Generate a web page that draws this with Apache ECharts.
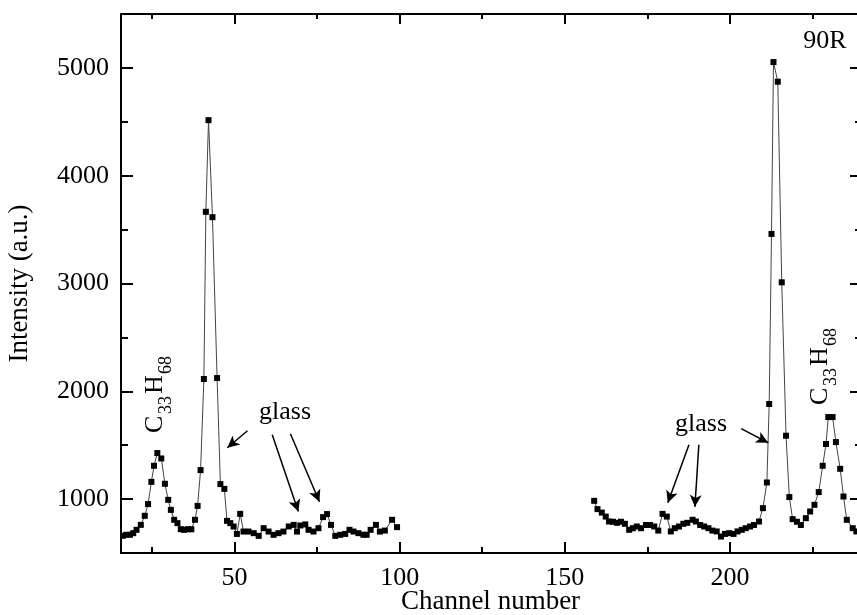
<!DOCTYPE html>
<html>
<head>
<meta charset="utf-8">
<script src="https://cdn.jsdelivr.net/npm/echarts@6/dist/echarts.min.js"></script>
<style>
  html, body { margin: 0; padding: 0; background: #fff; }
  #chart { width: 857px; height: 615px; }
</style>
</head>
<body>
<div id="chart"></div>
<script>
// left block of channels (before the gap)
const channelsA = [16.2, 17.2, 18.3, 19.3, 20.3, 21.6, 22.8, 23.8, 24.8, 25.6, 26.6, 27.8, 28.9, 29.9, 30.7,
  31.7, 32.7, 33.7, 34.7, 35.9, 36.9, 38.0, 38.8, 39.7, 40.7, 41.3, 42.1, 43.3, 44.7, 45.7, 46.9, 47.7,
  48.7, 49.7, 50.7, 51.7, 52.7, 54.2, 55.8, 57.3, 58.8, 60.3, 61.8, 63.3, 64.8, 66.4, 67.9, 68.9, 69.9,
  71.4, 72.4, 73.9, 75.4, 76.8, 78.0, 79.2, 80.5, 82.0, 83.5, 84.8, 86.0, 87.5, 89.0, 90.0, 91.2, 92.8,
  94.0, 95.5, 97.7, 99.2];
const intensityA = [660, 669, 669, 684, 715, 761, 845, 954, 1160, 1309, 1427, 1377, 1142, 993, 900,
  808, 777, 721, 715, 721, 720, 808, 937, 1269, 2114, 3665, 4515, 3615, 2123, 1139, 1095, 798,
  777, 746, 677, 863, 699, 699, 684, 659, 730, 699, 669, 684, 699, 746, 761, 699, 755,
  765, 715, 699, 730, 833, 861, 761, 659, 669, 677, 715, 699, 684, 669, 669, 715, 761,
  699, 708, 808, 740];

// right block of channels (after the gap)
const channelsB = [158.9, 159.9, 161.2, 162.4, 163.4, 164.6, 165.8, 167.0, 168.2, 169.5, 170.6, 171.8,
  173.1, 174.6, 175.8, 177.1, 178.3, 179.6, 180.9, 182.1, 183.3, 184.6, 185.9, 187.1, 188.7, 189.7,
  191.0, 192.2, 193.5, 194.7, 196.0, 197.3, 198.5, 199.8, 201.1, 202.3, 203.6, 204.8, 206.1, 207.3,
  208.8, 210.0, 211.2, 211.9, 212.6, 213.2, 214.5, 215.7, 217.0, 218.0, 219.0, 220.3, 221.5, 223.0,
  224.3, 225.6, 226.9, 228.1, 229.1, 229.8, 231.1, 232.1, 233.4, 234.4, 235.4, 237.2, 238.3];
const intensityB = [984, 907, 875, 838, 792, 790, 780, 790, 771, 715, 730, 746,
  730, 760, 760, 746, 708, 863, 838, 700, 730, 746, 771, 780, 808, 792,
  760, 746, 730, 708, 700, 653, 677, 684, 677, 700, 715, 730, 746, 760,
  792, 916, 1154, 1882, 3460, 5054, 4872, 3011, 1588, 1019, 814, 790, 760, 823,
  885, 947, 1065, 1309, 1511, 1761, 1761, 1529, 1281, 1024, 808, 730, 700];

const xMajor = [50, 100, 150, 200];
const xMinor = [25, 75, 125, 175, 225];
const yMajor = [1000, 2000, 3000, 4000, 5000];
const yMinor = [1500, 2500, 3500, 4500];

// annotation arrows, [from, to] in data coordinates
const arrows = [
  [[53.9, 1634], [47.8, 1476]],
  [[61.4, 1597], [69.3, 884]],
  [[66.9, 1606], [75.7, 975]],
  [[203.4, 1653], [211.6, 1523]],
  [[187.6, 1504], [181.2, 966]],
  [[190.6, 1504], [189.4, 928]]
];

const FONT = '"Liberation Serif", "Times New Roman", serif';
const X_MIN = 15.6, X_MAX = 239.4, Y_MIN = 500, Y_MAX = 5500;

function zip(xs, ys) {
  return xs.map((x, i) => [x, ys[i]]);
}

function xAx(position, ticks, len, labels, name) {
  return {
    type: 'value', position: position, min: X_MIN, max: X_MAX,
    splitLine: { show: false },
    axisLine: { show: len > 7, onZero: false, lineStyle: { color: '#000', width: 2 } },
    axisTick: { show: true, inside: true, length: len, customValues: ticks, lineStyle: { color: '#000', width: 2 } },
    axisLabel: labels ? {
      show: true, customValues: ticks, color: '#000', fontFamily: FONT, fontSize: 26, margin: 12,
      formatter: v => String(v)
    } : { show: false },
    name: name || '', nameLocation: 'middle', nameGap: 35, nameMoveOverlap: false,
    nameTextStyle: { color: '#000', fontFamily: FONT, fontSize: 27 }
  };
}

function yAx(position, ticks, len, labels, name) {
  return {
    type: 'value', position: position, min: Y_MIN, max: Y_MAX,
    splitLine: { show: false },
    axisLine: { show: len > 7, onZero: false, lineStyle: { color: '#000', width: 2 } },
    axisTick: { show: true, inside: true, length: len, customValues: ticks, lineStyle: { color: '#000', width: 2 } },
    axisLabel: labels ? {
      show: true, customValues: ticks, color: '#000', fontFamily: FONT, fontSize: 26, margin: 12,
      formatter: v => String(v)
    } : { show: false },
    name: name || '', nameLocation: 'middle', nameGap: 88, nameMoveOverlap: false,
    nameTextStyle: { color: '#000', fontFamily: FONT, fontSize: 27 }
  };
}

function formula(x, y) {
  const big = '26px ' + FONT, small = '18px ' + FONT;
  return {
    type: 'group', x: x, y: y, rotation: Math.PI / 2,
    children: [
      { type: 'text', x: 0, y: 0, style: { text: 'C', font: big, fill: '#000', verticalAlign: 'middle' } },
      { type: 'text', x: 19, y: 11, style: { text: '33', font: small, fill: '#000', verticalAlign: 'middle' } },
      { type: 'text', x: 39, y: 0, style: { text: 'H', font: big, fill: '#000', verticalAlign: 'middle' } },
      { type: 'text', x: 59, y: 11, style: { text: '68', font: small, fill: '#000', verticalAlign: 'middle' } }
    ]
  };
}

function label(text, x, y) {
  return {
    type: 'text', x: x, y: y,
    style: { text: text, font: '26px ' + FONT, fill: '#000', align: 'center', verticalAlign: 'middle' }
  };
}

const chart = echarts.init(document.getElementById('chart'), null, { renderer: 'canvas' });

const seriesStyle = {
  type: 'line',
  symbol: 'rect',
  symbolSize: 6,
  showSymbol: true,
  itemStyle: { color: '#000' },
  lineStyle: { color: '#444', width: 1 },
  emphasis: { disabled: true }
};

chart.setOption({
  animation: false,
  backgroundColor: '#fff',
  grid: { left: 121, right: -3, top: 14, bottom: 62, containLabel: false, outerBoundsMode: 'none' },
  xAxis: [
    xAx('bottom', xMajor, 11, true, 'Channel number'),
    xAx('bottom', xMinor, 6, false),
    xAx('top', xMajor, 10, false),
    xAx('top', xMinor, 5, false)
  ],
  yAxis: [
    yAx('left', yMajor, 12, true, 'Intensity (a.u.)'),
    yAx('left', yMinor, 7, false),
    yAx('right', yMajor, 10, false),
    yAx('right', yMinor, 5, false)
  ],
  series: [
    Object.assign({}, seriesStyle, {
      name: 'A',
      data: zip(channelsA, intensityA),
      markLine: {
        silent: true,
        symbol: ['none', 'arrow'],
        symbolSize: [9, 12],
        label: { show: false },
        lineStyle: { color: '#000', width: 1.5, type: 'solid' },
        data: arrows.map(a => [{ coord: a[0] }, { coord: a[1] }])
      }
    }),
    Object.assign({}, seriesStyle, {
      name: 'B',
      data: zip(channelsB, intensityB)
    })
  ],
  graphic: [
    label('90R', 825, 41),
    label('glass', 285, 412),
    label('glass', 701, 424),
    formula(155, 433),
    formula(820, 405)
  ]
});
</script>
</body>
</html>
